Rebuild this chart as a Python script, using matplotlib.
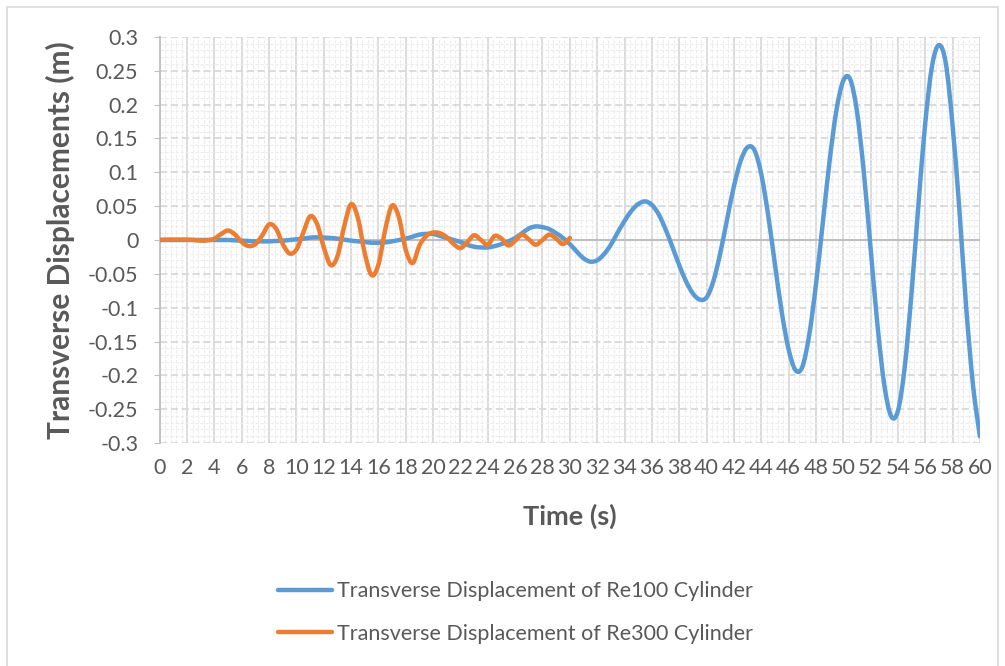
import matplotlib
matplotlib.use('Agg')
import matplotlib.pyplot as plt
from matplotlib.path import Path
from matplotlib.patches import PathPatch, Rectangle
from matplotlib.lines import Line2D
from matplotlib.ticker import MultipleLocator, FuncFormatter

# time axis (s)
time_re100 = [i * 0.5 for i in range(121)]
time_re300 = [i * 0.5 for i in range(61)]

# transverse displacement (m)
disp_re100 = [
    0, 0, 0, 0, 0, 0, 0, 0, 0, 0,
    0, -0.0005, -0.001, -0.0015, -0.002, -0.002, -0.002, -0.0015, -0.001, 0,
    0.001, 0.002, 0.0035, 0.004, 0.0035, 0.003, 0.002, 0.0005, -0.001, -0.002,
    -0.003, -0.004, -0.004, -0.0035, -0.002, 0, 0.002, 0.005, 0.008, 0.009,
    0.009, 0.006, 0.003, 0, -0.003, -0.007, -0.010, -0.011, -0.011, -0.009,
    -0.006, -0.002, 0.003, 0.010, 0.017, 0.020, 0.019, 0.016, 0.010, 0.003,
    -0.006, -0.017, -0.027, -0.032, -0.030, -0.021, -0.007, 0.011, 0.028, 0.043,
    0.053, 0.057, 0.052, 0.038, 0.016, -0.010, -0.037, -0.061, -0.079, -0.088,
    -0.085, -0.061, -0.020, 0.030, 0.079, 0.117, 0.137, 0.133, 0.098, 0.038,
    -0.035, -0.106, -0.161, -0.192, -0.188, -0.142, -0.067, 0.024, 0.116, 0.191,
    0.235, 0.238, 0.191, 0.102, -0.011, -0.124, -0.213, -0.260, -0.253, -0.188,
    -0.078, 0.051, 0.172, 0.257, 0.288, 0.262, 0.170, 0.045, -0.100, -0.215,
    -0.290,
]
disp_re300 = [
    0, 0.0005, 0.0005, 0.0005, 0.0005, 0, -0.001, -0.0005, 0.002, 0.009,
    0.014, 0.008, -0.003, -0.009, -0.006, 0.007, 0.023, 0.017, -0.006, -0.020,
    -0.014, 0.011, 0.035, 0.024, -0.011, -0.037, -0.024, 0.021, 0.053, 0.032,
    -0.020, -0.052, -0.036, 0.016, 0.051, 0.033, -0.015, -0.034, -0.008, 0.006,
    0.011, 0.010, 0.004, -0.006, -0.012, -0.003, 0.007, 0.000, -0.007, 0.006,
    0.002, -0.008, -0.001, 0.008, 0.001, -0.007, 0.000, 0.008, 0.002, -0.006,
    0.003,
]

labels = ['Transverse Displacement of Re100 Cylinder',
          'Transverse Displacement of Re300 Cylinder']
colors = ['#5B9BD5', '#ED7D31']

plt.rcParams['font.family'] = ['Lato', 'DejaVu Sans']


def smooth_path(xs, ys):
    # Excel-style smoothed line: cubic Bezier segments through the data points
    n = len(xs)
    verts = [(xs[0], ys[0])]
    codes = [Path.MOVETO]
    for i in range(n - 1):
        x0, y0 = xs[max(i - 1, 0)], ys[max(i - 1, 0)]
        x1, y1 = xs[i], ys[i]
        x2, y2 = xs[i + 1], ys[i + 1]
        x3, y3 = xs[min(i + 2, n - 1)], ys[min(i + 2, n - 1)]
        verts += [(x1 + (x2 - x0) / 6, y1 + (y2 - y0) / 6),
                  (x2 - (x3 - x1) / 6, y2 - (y3 - y1) / 6),
                  (x2, y2)]
        codes += [Path.CURVE4] * 3
    return Path(verts, codes)


def ylab(v, pos):
    if abs(v) < 1e-9:
        return '0'
    return ('%.2f' % v).rstrip('0').rstrip('.')


fig = plt.figure(figsize=(10.05, 6.66), dpi=100)
ax = fig.add_axes([0.159, 0.3348, 0.816, 0.6097])

# chart border
fig.patches.append(Rectangle((0.007, -0.02), 0.986, 1.0095, transform=fig.transFigure,
                             fill=False, edgecolor='#d9d9d9', linewidth=1.2))

ax.set_xlim(0, 60)
ax.set_ylim(-0.3, 0.3)
ax.xaxis.set_major_locator(MultipleLocator(2))
ax.xaxis.set_minor_locator(MultipleLocator(0.4))
ax.yaxis.set_major_locator(MultipleLocator(0.05))
ax.yaxis.set_minor_locator(MultipleLocator(0.01))
ax.yaxis.set_major_formatter(FuncFormatter(ylab))

ax.grid(which='minor', color='#ececec', linewidth=0.8, linestyle=(0, (3, 1.5)))
ax.grid(which='major', axis='x', color='#d9d9d9', linewidth=1.3)
ax.grid(which='major', axis='y', color='#d9d9d9', linewidth=1.3, linestyle=(0, (4, 2)))
ax.axhline(0, color='#bfbfbf', linewidth=1.5, zorder=1.5)
ax.set_axisbelow(True)

for s in ['top', 'right', 'bottom']:
    ax.spines[s].set_visible(False)
ax.spines['left'].set_color('#bfbfbf')
ax.spines['left'].set_linewidth(1.3)

ax.tick_params(axis='x', which='major', length=0, labelsize=15.5, labelcolor='#595959', pad=11)
ax.tick_params(axis='y', which='major', length=4.5, color='#bfbfbf', labelsize=15.5,
               labelcolor='#595959', pad=11)
ax.tick_params(which='minor', length=0)

for xs, ys, c in [(time_re100, disp_re100, colors[0]), (time_re300, disp_re300, colors[1])]:
    ax.add_patch(PathPatch(smooth_path(xs, ys), fill=False, edgecolor=c,
                           linewidth=3.2, capstyle='round', joinstyle='round', zorder=3))

ax.set_xlabel('Time (s)', fontsize=19.5, fontweight='bold', color='#595959')
ax.set_ylabel('Transverse Displacements (m)', fontsize=21.5, fontweight='bold', color='#595959')
ax.xaxis.set_label_coords(0.5, -0.15)
ax.yaxis.set_label_coords(-0.104, 0.5)

handles = [Line2D([], [], color=c, linewidth=3.2, solid_capstyle='round') for c in colors]
fig.legend(handles, labels, loc='center', bbox_to_anchor=(0.513, 0.080), frameon=False,
           fontsize=15.5, labelcolor='#595959', handlelength=2.5, handletextpad=0.25,
           labelspacing=1.05)

plt.savefig('out.png', dpi=100)
